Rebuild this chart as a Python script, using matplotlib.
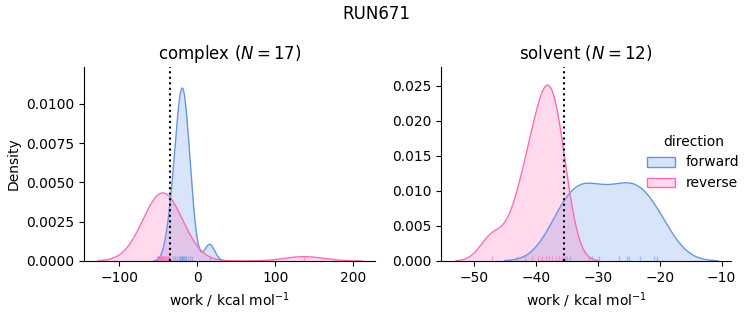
import numpy as np
import matplotlib
matplotlib.use("Agg")
import matplotlib.pyplot as plt
from matplotlib.patches import Patch
from matplotlib.ticker import FormatStrFormatter
import seaborn as sns

# work values (kcal/mol)
complex_forward = [-36.0, -31.0, -28.0, -25.5, -23.5, -22.5, -21.0, -20.0, -19.0,
                   -18.0, -17.0, -15.5, -14.0, -12.0, -9.5, -7.0, 16.0]
complex_reverse = [-51.5, -50.0, -49.0, -48.0, -47.0, -46.0, -45.0, -44.5, -44.0,
                   -43.0, -42.0, -41.0, -40.0, -39.0, -38.0, -37.0, 137.0]
solvent_forward = [-35.3, -34.9, -34.5, -31.4, -31.0, -29.8, -26.6, -25.2, -25.0,
                   -23.2, -21.0, -20.4]
solvent_reverse = [-47.0, -43.1, -41.7, -40.6, -39.7, -39.0, -38.4, -37.9, -37.4,
                   -36.8, -36.3, -35.8]

# free energy estimates (dotted lines)
complex_dg = -34.6
solvent_dg = -35.5

FORWARD = '#6495ED'
REVERSE = '#FF69B4'

n_total = (len(complex_forward) + len(complex_reverse)
           + len(solvent_forward) + len(solvent_reverse))


def kde(values, frac, gridsize=200, cut=3):
    x = np.asarray(values, dtype=float)
    bw = x.std(ddof=1) * len(x) ** (-1 / 5)
    grid = np.linspace(x.min() - cut * bw, x.max() + cut * bw, gridsize)
    z = (grid[:, None] - x[None, :]) / bw
    dens = np.exp(-0.5 * z ** 2).sum(axis=1) / (len(x) * bw * np.sqrt(2 * np.pi))
    return grid, dens * frac


def panel(ax, fwd, rev, dg, title, xlim, ylim, xticks):
    for vals, color in [(fwd, FORWARD), (rev, REVERSE)]:
        xs, ys = kde(vals, len(vals) / n_total)
        ax.fill_between(xs, ys, color=color, alpha=0.25, linewidth=0)
        ax.plot(xs, ys, color=color, linewidth=1)
        sns.rugplot(x=vals, ax=ax, color=color, alpha=0.5, height=0.025)
    ax.axvline(dg, color='black', linestyle=':', linewidth=1.5)
    ax.set_title(title, fontsize=12)
    ax.set_xlabel('work / kcal mol$^{-1}$')
    ax.set_xlim(*xlim)
    ax.set_ylim(*ylim)
    ax.set_xticks(xticks)
    ax.spines['right'].set_visible(False)
    ax.spines['top'].set_visible(False)


fig = plt.figure(figsize=(7.53, 3.25), dpi=100)
ax1 = fig.add_axes([0.1116, 0.197, 0.3865, 0.597])
ax2 = fig.add_axes([0.5857, 0.197, 0.385, 0.597])

panel(ax1, complex_forward, complex_reverse, complex_dg,
      'complex ($N=17$)', (-145, 228), (0, 0.01236), [-100, 0, 100, 200])
ax1.set_yticks([0, 0.0025, 0.005, 0.0075, 0.01])
ax1.yaxis.set_major_formatter(FormatStrFormatter('%.4f'))
ax1.set_ylabel('Density')

panel(ax2, solvent_forward, solvent_reverse, solvent_dg,
      'solvent ($N=12$)', (-55.3, -8.5), (0, 0.0277), [-50, -40, -30, -20, -10])
ax2.set_yticks([0, 0.005, 0.01, 0.015, 0.02, 0.025])
ax2.yaxis.set_major_formatter(FormatStrFormatter('%.3f'))

handles = [Patch(facecolor=matplotlib.colors.to_rgba(c, 0.25), edgecolor=c)
           for c in (FORWARD, REVERSE)]
fig.legend(handles, ['forward', 'reverse'], title='direction', frameon=False,
           loc='center right', bbox_to_anchor=(0.999, 0.5))

fig.suptitle('RUN671', fontsize=12, y=0.985)

fig.savefig('out.png', dpi=100)
